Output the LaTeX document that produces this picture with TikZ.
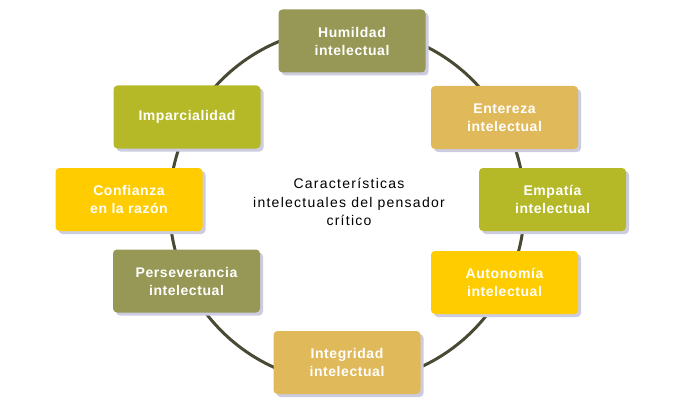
\documentclass[tikz,border=0pt]{standalone}
\usepackage{fontspec}
\setmainfont{Liberation Sans}
\newfontfamily\boxfont[LetterSpace=4]{Liberation Sans}
\newfontfamily\midfont[LetterSpace=9]{Liberation Sans}
\usepackage{tikz}
\usetikzlibrary{shadows, positioning}
\definecolor{olivec}{RGB}{151,152,85}
\definecolor{tanc}{RGB}{224,185,90}
\definecolor{limec}{RGB}{181,185,40}
\definecolor{goldc}{RGB}{255,204,0}
\definecolor{trait}{RGB}{74,74,52}
\definecolor{ombre}{RGB}{204,204,224}
\begin{document}
\begin{tikzpicture}[x=1pt, y=-1pt]

	\tikzstyle{carac}=[rectangle, rounded corners=4pt, minimum width=147pt, minimum height=63pt, align=center, text=white, font=\boxfont\bfseries\fontsize{14}{18}\selectfont, drop shadow={shadow xshift=3pt, shadow yshift=-3pt, fill=ombre, opacity=1}]
	\tikzstyle{titre}=[align=center, text=black, font=\midfont\fontsize{14}{18.5}\selectfont]
	\tikzstyle{cercle}=[draw=trait, line width=3pt]

	\useasboundingbox (0,0) rectangle (700,417);

	% cercle
	\coordinate (centre) at (347,205.5);
	\draw[cercle] (centre) circle (177.5);

	% placement des noeuds
	\node[titre] (tit) at (349,202) {Características\\intelectuales del pensador\\crítico};
	\node[carac, fill=olivec] (hum) at (352,41) {Humildad\\intelectual};
	\node[carac, fill=tanc] (ent) at (504.5,117.5) {Entereza\\intelectual};
	\node[carac, fill=limec] (emp) at (552.5,199.5) {Empatía\\intelectual};
	\node[carac, fill=goldc] (aut) at (504.5,282.5) {Autonomía\\intelectual};
	\node[carac, fill=tanc] (int) at (347,362.5) {Integridad\\intelectual};
	\node[carac, fill=olivec] (per) at (186.5,281) {Perseverancia\\intelectual};
	\node[carac, fill=goldc] (con) at (129,199.5) {Confianza\\en la razón};
	\node[carac, fill=limec] (imp) at (187,117) {Imparcialidad};

\end{tikzpicture}
\end{document}
